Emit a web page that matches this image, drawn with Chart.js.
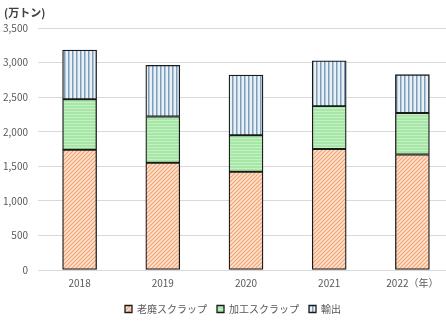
<!DOCTYPE html>
<html>
<head>
<meta charset="utf-8">
<script src="https://cdn.jsdelivr.net/npm/chart.js@4"></script>
<style>
  html, body { margin: 0; padding: 0; background: #fff; overflow: hidden; }
  #wrap { width: 446px; height: 324px; overflow: hidden; position: relative; }
</style>
</head>
<body>
<div id="wrap"><canvas id="grafico" width="454" height="324"></canvas></div>
<script>
// ===== Datos =====
const anios = ["2018", "2019", "2020", "2021", "2022（年）"];
const scrapViejo = [1740, 1550, 1420, 1750, 1670];   // 老廃スクラップ
const scrapProceso = [730, 670, 530, 620, 600];      // 加工スクラップ
const exportacion = [710, 740, 870, 655, 555];       // 輸出
const ticksY = [0, 500, 1000, 1500, 2000, 2500, 3000, 3500];

const FUENTE = "'Noto Sans CJK JP', 'Noto Sans', sans-serif";

// ===== Patrones =====
function crearPatron(tam, dibujar) {
  const c = document.createElement("canvas");
  c.width = tam; c.height = tam;
  const g = c.getContext("2d");
  dibujar(g, tam);
  return document.getElementById("grafico").getContext("2d").createPattern(c, "repeat");
}

const patronViejo = crearPatron(4, (g, s) => {
  g.fillStyle = "#fde2d0"; g.fillRect(0, 0, s, s);
  g.strokeStyle = "#f0a473"; g.lineWidth = 1.2;
  g.beginPath();
  g.moveTo(0, s); g.lineTo(s, 0);
  g.moveTo(-1, 1); g.lineTo(1, -1);
  g.moveTo(s - 1, s + 1); g.lineTo(s + 1, s - 1);
  g.stroke();
});

const patronProceso = crearPatron(3, (g, s) => {
  g.fillStyle = "#a6e6a6"; g.fillRect(0, 0, s, s);
  g.fillStyle = "#c4f0c4"; g.fillRect(0, 0, s, 1);
});

const patronExport = crearPatron(4, (g, s) => {
  g.fillStyle = "#e9f1f8"; g.fillRect(0, 0, s, s);
  g.fillStyle = "#7d9cba"; g.fillRect(0, 0, 1.5, s);
});

// ===== Plugins =====
const tituloUnidad = {
  id: "tituloUnidad",
  afterDraw(chart) {
    const { ctx } = chart;
    ctx.save();
    ctx.font = "bold 11px " + FUENTE;
    ctx.fillStyle = "#404040";
    ctx.textBaseline = "middle";
    ctx.fillText("(万トン)", 4, 13);
    ctx.restore();
  }
};

// la leyenda en el original queda un poco a la derecha
const moverLeyenda = {
  id: "moverLeyenda",
  afterLayout(chart) {
    if (!chart.legend) return;
    chart.legend.left += 6;
    chart.legend.right += 6;
  }
};

const serie = (label, data, bg) => ({
  label, data, backgroundColor: bg,
  borderColor: "#1a1a1a", borderWidth: 1.3, borderSkipped: false,
  barThickness: 34
});

new Chart(document.getElementById("grafico"), {
  type: "bar",
  data: {
    labels: anios,
    datasets: [
      serie("老廃スクラップ", scrapViejo, patronViejo),
      serie("加工スクラップ", scrapProceso, patronProceso),
      serie("輸出", exportacion, patronExport)
    ]
  },
  options: {
    responsive: false,
    animation: false,
    layout: { padding: { top: 28, left: 0, right: 0, bottom: 0 } },
    plugins: {
      legend: {
        position: "bottom",
        labels: { boxWidth: 7, boxHeight: 7, font: { family: FUENTE, size: 10 }, color: "#595959", padding: 10 }
      },
      tooltip: { enabled: false }
    },
    scales: {
      x: {
        stacked: true,
        afterFit: s => { s.height = 24; },
        grid: { display: false, drawTicks: false },
        border: { display: false },
        ticks: { font: { family: FUENTE, size: 10 }, color: "#595959", padding: 7 }
      },
      y: {
        stacked: true,
        min: 0, max: 3500,
        afterBuildTicks: s => { s.ticks = ticksY.map(v => ({ value: v })); },
        afterFit: s => { s.width = 38; },
        grid: { color: "#d9d9d9", drawTicks: false },
        border: { display: false },
        ticks: {
          font: { family: FUENTE, size: 10 }, color: "#595959", padding: 10,
          callback: v => Number(v).toLocaleString("en-US")
        }
      }
    }
  },
  plugins: [tituloUnidad, moverLeyenda]
});
</script>
</body>
</html>
